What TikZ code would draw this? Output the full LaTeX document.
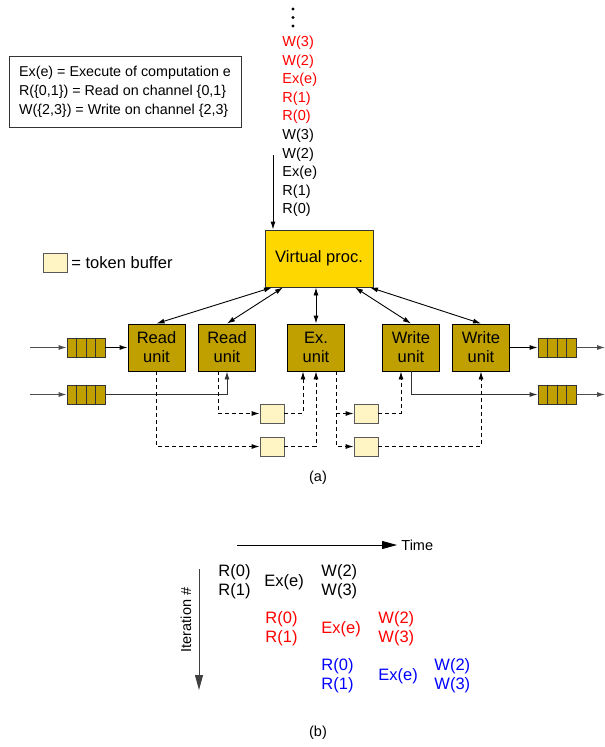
\documentclass[tikz,border=0pt]{standalone}
\usepackage{fontspec}
\setmainfont{Liberation Sans}
\usetikzlibrary{arrows.meta,calc}
\definecolor{unitc}{RGB}{192,160,0}
\definecolor{vpc}{RGB}{255,215,0}
\definecolor{tokc}{RGB}{255,245,196}
\definecolor{bluec}{RGB}{0,0,255}
\definecolor{redc}{RGB}{255,0,0}
\newcommand{\smallf}{\fontsize{14.5}{18.56}\selectfont}
\newcommand{\legf}{\fontsize{14.3}{19}\selectfont}
\newcommand{\bigf}{\fontsize{16.5}{19}\selectfont}
\begin{document}
\begin{tikzpicture}[x=1pt,y=-1pt,
  line width=0.9pt,
  tip/.tip={Latex[length=8pt,width=5pt]},
  bigtip/.tip={Triangle[length=15pt,width=8pt]},
  unitbox/.style={draw=black,fill=unitc,minimum width=57pt,minimum height=47pt,inner sep=0pt,align=center,font=\bigf},
  vpbox/.style={draw=black!80,fill=vpc,minimum width=108pt,minimum height=57pt,inner sep=0pt,font=\bigf},
  fifo/.style={draw=black!80,fill=unitc,minimum width=38pt,minimum height=19pt,inner sep=0pt,
    path picture={\foreach \f in {0.25,0.5,0.75}{\draw[black!80] ($(path picture bounding box.south west)!\f!(path picture bounding box.south east)$) -- ($(path picture bounding box.north west)!\f!(path picture bounding box.north east)$);}}},
  tokbox/.style={draw=black!65,fill=tokc,minimum width=24pt,minimum height=19pt,inner sep=0pt},
  dline/.style={dash pattern=on 4pt off 3pt,-tip},
  stk/.style={anchor=west,font=\smallf,inner sep=0pt},
  cell/.style={anchor=west,align=left,font=\bigf,inner sep=0pt}
]
\useasboundingbox (0,0) rectangle (605,747);

% dots
\foreach \yy in {9,17.5,26} \fill (293,\yy) circle[radius=1.7pt];

% stack of operations
\foreach \t/\c [count=\i from 0] in {W(3)/redc,W(2)/redc,Ex(e)/redc,R(1)/redc,R(0)/redc,W(3)/black,W(2)/black,Ex(e)/black,R(1)/black,R(0)/black}
  \node[stk,text=\c] (s\i) at (282,{43+18.56*\i}) {\t};

% legend
\node[draw=black!80,minimum width=232pt,minimum height=71pt,inner xsep=4pt,align=left,font=\legf] (legend) at (125,91.5)
 {Ex(e) = Execute of computation e\\R(\{0,1\}) = Read on channel \{0,1\}\\W(\{2,3\}) = Write on channel \{2,3\}};

\node[tokbox] (legtb) at (55,262.5) {};
\node[anchor=west,font=\bigf,inner sep=0pt] (legtxt) at (71,263) {= token buffer};

% virtual processor
\node[vpbox] (vp) at (319,258.5) {Virtual proc.};
\coordinate (top) at (273,155);
\draw[-tip] (top) -- (top |- vp.north);

% units
\node[unitbox] (r1) at (156.5,347.5) {Read\\unit};
\node[unitbox] (r2) at (227,347.5) {Read\\unit};
\node[unitbox] (ex) at (316,347.5) {Ex.\\unit};
\node[unitbox] (w1) at (411,347.5) {Write\\unit};
\node[unitbox] (w2) at (481,347.5) {Write\\unit};

% VP links
\draw[tip-tip] ([xshift=-47pt]vp.south) -- (r1.north);
\draw[tip-tip] ([xshift=-36pt]vp.south) -- (r2.north);
\draw[tip-tip] (ex.north |- vp.south) -- (ex.north);
\draw[tip-tip] ([xshift=36pt]vp.south) -- (w1.north);
\draw[tip-tip] ([xshift=51pt]vp.south) -- (w2.north);

% FIFOs
\node[fifo] (fl1) at (86,347.5) {};
\node[fifo] (fl2) at (86,394.5) {};
\node[fifo] (fr1) at (557,347.5) {};
\node[fifo] (fr2) at (557,394.5) {};
\coordinate (in1) at (30,347.5);
\coordinate (in2) at (30,394.5);
\coordinate (out1) at (605,347.5);
\coordinate (out2) at (605,394.5);
\draw[black!70,-tip] (in1) -- (fl1.west);
\draw[black!70,-tip] (in2) -- (fl2.west);
\draw[-tip] (fl1.east) -- (r1.west);
\draw[black!80,-tip] (fl2.east) -| (r2.south);
\draw[-tip] (w2.east) -- (fr1.west);
\draw[black!80,-tip] (w1.south) |- (fr2.west);
\draw[black!70,-tip] (fr1.east) -- (out1);
\draw[black!70,-tip] (fr2.east) -- (out2);

% token buffers
\node[tokbox] (tb1) at (272,413.5) {};
\node[tokbox] (tb2) at (272,446.5) {};
\node[tokbox] (tb3) at (366,413.5) {};
\node[tokbox] (tb4) at (366,446.5) {};

\draw[dline] ([xshift=-9pt]r2.south) |- (tb1.west);
\draw[dline] (tb1.east) -| ([xshift=-13pt]ex.south);
\draw[dline] (r1.south) |- (tb2.west);
\draw[dline] (tb2.east) -| (ex.south);
\draw[dline] ([xshift=20pt]ex.south) |- (tb4.west);
\draw[dline] ([xshift=20pt]ex.south) |- (tb3.west);
\draw[dline] (tb3.east) -| ([xshift=-10pt]w1.south);
\draw[dline] (tb4.east) -| (w2.south);

\node[font=\smallf] (capa) at (318,478) {(a)};

% part (b)
\node[anchor=west,font=\smallf,inner sep=0pt] (time) at (401,545) {Time};
\coordinate (t0) at (237,545);
\draw[-bigtip] (t0) -- ([xshift=-4pt]time.west);
\node[rotate=90,font=\smallf,inner sep=0pt] (iter) at (186,620) {Iteration \#};
\coordinate (i0) at (199,569);
\coordinate (i1) at (199,690);
\draw[black!75,-bigtip] (i0) -- (i1);

\node[cell] (a1) at (218,582) {R(0)\\R(1)};
\node[cell] (a2) at (264,582) {Ex(e)};
\node[cell] (a3) at (321,582) {W(2)\\W(3)};
\node[cell,text=redc] (b1) at (265,629) {R(0)\\R(1)};
\node[cell,text=redc] (b2) at (321,629) {Ex(e)};
\node[cell,text=redc] (b3) at (378,629) {W(2)\\W(3)};
\node[cell,text=bluec] (c1) at (321,676) {R(0)\\R(1)};
\node[cell,text=bluec] (c2) at (378,676) {Ex(e)};
\node[cell,text=bluec] (c3) at (434,676) {W(2)\\W(3)};

\node[font=\smallf] (capb) at (318,733) {(b)};
\end{tikzpicture}
\end{document}
